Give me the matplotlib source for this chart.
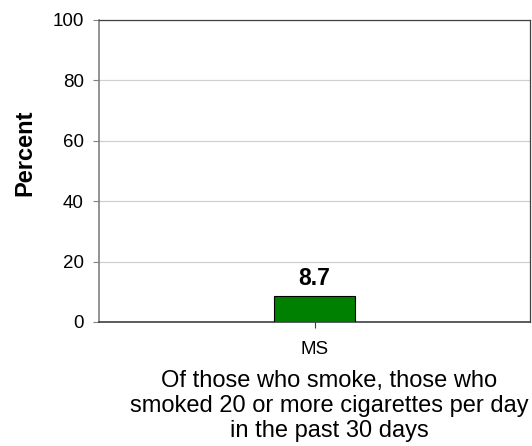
import matplotlib
matplotlib.use("Agg")
import matplotlib.pyplot as plt

categories = ["MS"]
values = [8.7]
yticks = [0, 20, 40, 60, 80, 100]
caption = "Of those who smoke, those who\nsmoked 20 or more cigarettes per day\nin the past 30 days"

plt.rcParams['font.family'] = ['Liberation Sans', 'DejaVu Sans']

fig = plt.figure(figsize=(5.32, 4.46), dpi=100)
ax = fig.add_axes([99/532, 1 - 322/446, (530-99)/532, (322-20)/446])

x = list(range(len(categories)))
bars = ax.bar(x, values, width=0.186, color="#008000", edgecolor="black", linewidth=0.8, zorder=3)
for xi, v in zip(x, values):
    ax.text(xi, v + 2.0, f"{v}", ha="center", va="bottom", fontsize=16.5, fontweight="bold")

ax.set_xlim(-0.5, 0.5)
ax.set_ylim(0, 100)
ax.set_yticks(yticks)
ax.set_yticklabels([str(t) for t in yticks], fontsize=13.5)
ax.set_xticks(x)
ax.set_xticklabels(categories, fontsize=13.5)
ax.tick_params(axis='y', length=4, width=0.8, color="#808080", pad=7)
ax.tick_params(axis='x', length=4, width=0.8, color="#404040", pad=10)
ax.grid(axis='y', color="#d0d0d0", linewidth=0.9, zorder=0)
ax.set_axisbelow(True)

ax.spines['left'].set_color("#808080")
ax.spines['left'].set_linewidth(1.2)
ax.spines['bottom'].set_color("#404040")
ax.spines['bottom'].set_linewidth(1.2)
ax.spines['top'].set_color("#404040")
ax.spines['top'].set_linewidth(0.9)
ax.spines['right'].set_color("#404040")
ax.spines['right'].set_linewidth(0.9)

fig.text(25/532, 1 - 153/446, "Percent", rotation=90, ha="center", va="center", fontsize=17, fontweight="bold")
fig.text(329/532, 1 - 406/446, caption, ha="center", va="center", fontsize=17, linespacing=1.17)

fig.savefig("out.png", dpi=100)
